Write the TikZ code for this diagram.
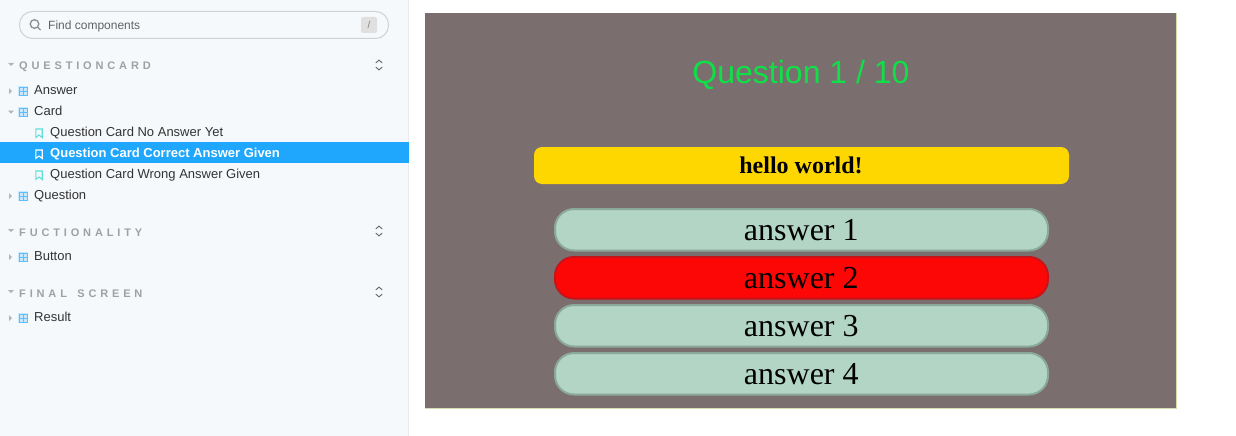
\documentclass[tikz,border=0pt]{standalone}
\usepackage{fontspec}
\setmainfont{Liberation Sans}
\newfontfamily\serifface{Liberation Serif}
\newfontfamily\headface[LetterSpace=35,WordSpace=1.5]{Liberation Sans}
\definecolor{sidebg}{HTML}{F6F9FC}
\definecolor{sideline}{HTML}{E8ECEF}
\definecolor{selblue}{HTML}{1EA7FD}
\definecolor{itemtext}{HTML}{333333}
\definecolor{headtext}{HTML}{A0A0A0}
\definecolor{arrowgray}{HTML}{B0B5BA}
\definecolor{gridblue}{HTML}{62BDFD}
\definecolor{marktl}{HTML}{5FDFD6}
\definecolor{framefill}{HTML}{7B6E6F}
\definecolor{frameline}{HTML}{D6DBAE}
\definecolor{ansfill}{HTML}{B2D5C6}
\definecolor{ansline}{HTML}{8AA89B}
\definecolor{wrongfill}{HTML}{FD0606}
\definecolor{wrongline}{HTML}{C81418}
\definecolor{titlegreen}{HTML}{10E048}
\definecolor{helloyellow}{HTML}{FFD700}
\tikzset{
  x=1pt,y=-1pt,
  itemlabel/.style={anchor=base west,inner sep=0pt,text=itemtext,font=\fontsize{13}{15}\selectfont},
  sellabel/.style={anchor=base west,inner sep=0pt,text=white,font=\fontsize{13}{15}\selectfont\bfseries},
  headlabel/.style={anchor=base west,inner sep=0pt,text=headtext,font=\fontsize{11}{13}\headface\bfseries},
  answerbox/.style={draw=ansline,fill=ansfill,line width=2pt,rounded corners=19pt},
  wrongbox/.style={draw=wrongline,fill=wrongfill,line width=2pt,rounded corners=19pt},
  answertext/.style={anchor=base,inner sep=0pt,text=black,font=\fontsize{32}{36}\serifface},
}
\newcommand{\gridicon}[2]{%
  \fill[gridblue!35] (#1-4.6,#2-4.6) rectangle (#1+4.6,#2+4.6);
  \draw[gridblue,line width=0.9pt] (#1-4,#2-4) rectangle (#1+4,#2+4)
    (#1,#2-4) -- (#1,#2+4) (#1-4,#2) -- (#1+4,#2);}
\newcommand{\markicon}[3]{%
  \draw[#3,line width=1.1pt,line join=miter] (#1-3.2,#2-4) -- (#1+3.2,#2-4) -- (#1+3.2,#2+4.4) -- (#1,#2+2) -- (#1-3.2,#2+4.4) -- cycle;}
\newcommand{\closedarrow}[2]{\fill[arrowgray] (#1-1.5,#2-3) -- (#1+1.5,#2) -- (#1-1.5,#2+3) -- cycle;}
\newcommand{\openarrow}[2]{\fill[arrowgray] (#1-3,#2-1.5) -- (#1+3,#2-1.5) -- (#1,#2+1.5) -- cycle;}
\newcommand{\expandicon}[2]{%
  \draw[itemtext!75,line width=0.9pt,line cap=round,line join=round] (#1-3,#2-2.2) -- (#1,#2-5) -- (#1+3,#2-2.2)
    (#1-3,#2+2.2) -- (#1,#2+5) -- (#1+3,#2+2.2);}
\begin{document}
\begin{tikzpicture}
\useasboundingbox (0,0) rectangle (1236,436);
\fill[white] (0,0) rectangle (1236,436);
% sidebar
\fill[sidebg] (0,0) rectangle (408,436);
\draw[sideline,line width=1pt] (408.5,0) -- (408.5,436);
% search
\draw[draw=black!18,fill=sidebg,line width=1pt,rounded corners=13pt] (19.5,11.5) rectangle (388.5,38.5);
\draw[black!45,line width=1.3pt] (34.5,24) circle (4.3);
\draw[black!45,line width=1.3pt] (37.7,27.2) -- (40.5,30);
\node[anchor=base west,inner sep=0pt,text=black!62,font=\fontsize{12}{14}\selectfont] (findlabel) at (48,29.5) {Find components};
\fill[black!12,rounded corners=2pt] (361,17) rectangle (377,33);
\node[anchor=base,inner sep=0pt,text=black!50,font=\fontsize{10}{12}\selectfont] (slash) at (369,29) {/};
% selection band
\fill[selblue] (0,142) rectangle (409,163);
% section headers
\openarrow{11}{64.5}
\node[headlabel] (h1) at (19,70) {QUESTIONCARD};
\expandicon{379}{65}
\openarrow{11}{230.5}
\node[headlabel] (h2) at (19,236) {FUCTIONALITY};
\expandicon{379}{231}
\openarrow{11}{291.5}
\node[headlabel] (h3) at (19,297) {FINAL SCREEN};
\expandicon{379}{292}
% items
\closedarrow{10.5}{91}
\gridicon{23}{91}
\node[itemlabel] (answer) at (34,94) {Answer};
\openarrow{11}{112}
\gridicon{23}{112}
\node[itemlabel] (card) at (34,115) {Card};
\markicon{39}{133}{marktl}
\node[itemlabel] (s1) at (50,136) {Question Card No Answer Yet};
\markicon{39}{154}{white}
\node[sellabel] (s2) at (50,157) {Question Card Correct Answer Given};
\markicon{39}{175}{marktl}
\node[itemlabel] (s3) at (50,178) {Question Card Wrong Answer Given};
\closedarrow{10.5}{196}
\gridicon{23}{196}
\node[itemlabel] (question) at (34,199) {Question};
\closedarrow{10.5}{257}
\gridicon{23}{257}
\node[itemlabel] (button) at (34,260) {Button};
\closedarrow{10.5}{318}
\gridicon{23}{318}
\node[itemlabel] (result) at (34,321) {Result};
% preview frame
\fill[frameline] (425,13) rectangle (1177,409);
\fill[framefill] (425,13) rectangle (1176,408);
\node[anchor=base,inner sep=0pt,text=titlegreen,font=\fontsize{32}{36}\selectfont] (title) at (801,83) {Question 1 / 10};
\fill[helloyellow,rounded corners=8pt] (534,147) rectangle (1069,184);
\node[anchor=base,inner sep=0pt,text=black,font=\fontsize{24}{28}\serifface\bfseries] (hello) at (801,173.5) {hello world!};
\draw[answerbox] (555,209) rectangle (1048,250.5);
\node[answertext] (a1) at (801.3,240) {answer 1};
\draw[wrongbox] (555,257) rectangle (1048,298.5);
\node[answertext] (a2) at (801.3,288) {answer 2};
\draw[answerbox] (555,305) rectangle (1048,346.5);
\node[answertext] (a3) at (801.3,336) {answer 3};
\draw[answerbox] (555,353) rectangle (1048,394.5);
\node[answertext] (a4) at (801.3,384) {answer 4};
\end{tikzpicture}
\end{document}
